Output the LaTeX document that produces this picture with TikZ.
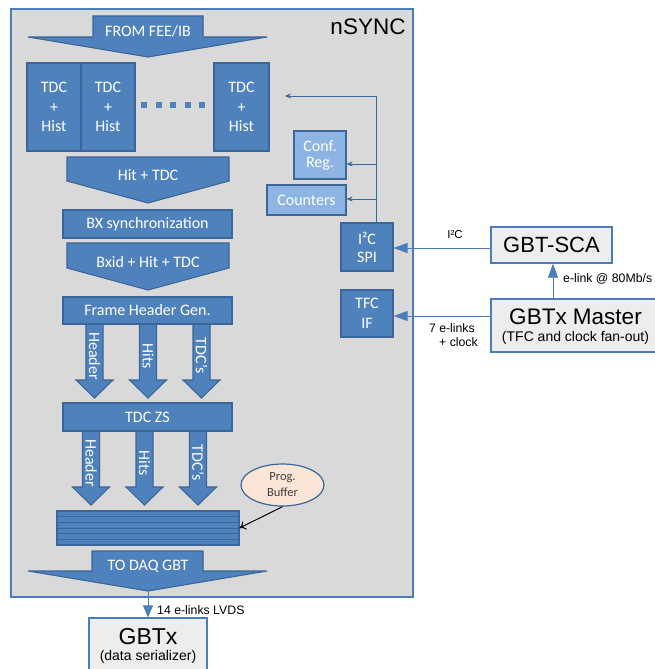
\documentclass[tikz,border=0pt]{standalone}
\usepackage{fontspec}
\setmainfont{Liberation Sans}
\newfontfamily\calfont{Carlito}
\usetikzlibrary{arrows.meta,calc,shapes.geometric}
\definecolor{bfill}{HTML}{4F81BD}
\definecolor{bline}{HTML}{3B6699}
\definecolor{lfill}{HTML}{8DB4E2}
\definecolor{bgray}{HTML}{D9D9D9}
\definecolor{boxgray}{HTML}{EDEDED}
\definecolor{peach}{HTML}{FBE5D6}
\definecolor{rline}{HTML}{4A7EBB}
\begin{document}
\begin{tikzpicture}[x=1pt,y=-1pt,
  blk/.style={fill=bfill,draw=bline,line width=1.1pt},
  bbox/.style={blk,inner sep=0pt,text=white,align=center,
    font=\calfont\fontsize{16}{19.5}\selectfont},
  lbox/.style={bbox,fill=lfill},
  wtxt/.style={text=white,inner sep=0pt,font=\calfont\fontsize{16}{19.5}\selectfont},
  gbox/.style={fill=boxgray,draw=rline,line width=1.3pt,inner sep=0pt},
  lab/.style={inner sep=0pt,font=\fontsize{12.3}{14}\selectfont},
  conn/.style={draw=bline,line width=0.9pt,-{Stealth[length=6pt,width=5pt]}},
  rconn/.style={draw=rline,line width=0.8pt,-{Triangle[length=14pt,width=10pt]}},
]
\useasboundingbox (0,0) rectangle (654,669);
% outer nSYNC box
\draw[fill=bgray,draw=rline,line width=1.5pt] (11,9) rectangle (413,597);
\node[inner sep=0pt,font=\fontsize{22.5}{26}\selectfont] (nsync) at (368,27) {nSYNC};

% FROM FEE/IB
\draw[blk] (93,16) -- (203,16) -- (203,37) -- (267,37) -- (148,57) -- (28,37) -- (93,37) -- cycle;
\node[wtxt] (fromfee) at (148,31) {FROM FEE/IB};

% TDC + Hist
\node[bbox,minimum width=54,minimum height=88] (tdc1) at (54,107) {TDC\\+\\Hist};
\node[bbox,minimum width=54,minimum height=88] (tdc2) at (108,107) {TDC\\+\\Hist};
\node[bbox,minimum width=55,minimum height=88] (tdc3) at (241.5,107) {TDC\\+\\Hist};
\foreach \i in {0,...,4} {
  \fill[bfill] ({144+14.5*\i-3},102) rectangle ++(6,6);
}

% Hit + TDC
\draw[blk] (67,157) -- (229,157) -- (229,181) -- (148,203) -- (67,181) -- cycle;
\node[wtxt] (hittdc) at (148,175) {Hit + TDC};

\node[bbox,minimum width=169,minimum height=28] (bx) at (147.5,224) {BX synchronization};

\draw[blk] (67,243) -- (229,243) -- (229,268) -- (148,290) -- (67,268) -- cycle;
\node[wtxt] (bxid) at (148,262) {Bxid + Hit + TDC};

% first row arrows
\foreach \c/\t in {94.5/Header,148/Hits,201.5/TDC’s} {
  \draw[blk] (\c-8.5,322) -- (\c+8.5,322) -- (\c+8.5,380) -- (\c+18.5,380) -- (\c,398) -- (\c-18.5,380) -- (\c-8.5,380) -- cycle;
  \node[wtxt,rotate=-90] at (\c,356) {\t};
}
\node[bbox,minimum width=169,minimum height=27] (fhg) at (147.5,310.5) {Frame Header Gen.};

% second row arrows
\foreach \c/\t in {91/Header,144.5/Hits,198/TDC’s} {
  \draw[blk] (\c-8.5,429) -- (\c+8.5,429) -- (\c+8.5,487) -- (\c+18.5,487) -- (\c,505) -- (\c-18.5,487) -- (\c-8.5,487) -- cycle;
  \node[wtxt,rotate=-90] at (\c,463) {\t};
}
\node[bbox,minimum width=169,minimum height=28] (zs) at (147.5,417) {TDC ZS};

% buffer stack
\node[blk,minimum width=182,minimum height=34,inner sep=0pt] (buf) at (148,528) {};
\foreach \i in {1,...,5} {
  \draw[bline,line width=1pt] (57,{511+34/6*\i}) -- (239,{511+34/6*\i});
}

% Prog. Buffer
\node[ellipse,fill=peach,draw=bline,line width=1.2pt,minimum width=83,minimum height=42,inner sep=0pt,
  align=center,text=black!75,font=\calfont\fontsize{12.5}{16}\selectfont] (pb) at (282.5,485) {Prog.\\Buffer};
\draw[black,line width=1pt,-{To[length=6pt,width=9pt]}] (pb.south) -- (buf.east);

% TO DAQ GBT
\draw[blk] (92,551) -- (203,551) -- (203,571) -- (267,571) -- (148,591) -- (28,571) -- (92,571) -- cycle;
\node[wtxt] (todaq) at (148,566) {TO DAQ GBT};
\coordinate (daqtip) at (148,591);

% GBTx
\node[gbox,minimum width=118,minimum height=62] (gbtx) at (148,649) {};
\node[inner sep=0pt,font=\fontsize{23}{26}\selectfont] (gbtxt) at (148,637) {GBTx};
\node[inner sep=0pt,font=\fontsize{14}{16}\selectfont] (gbtxs) at (148,657) {(data serializer)};
\draw[draw=rline,line width=0.8pt,-{Triangle[length=12pt,width=10pt]}] (daqtip) -- (gbtx.north);
\node[lab,anchor=west] (lvds) at (157,610) {14 e-links LVDS};

% right inner boxes
\node[lbox,minimum width=52,minimum height=48,font=\calfont\fontsize{16}{16}\selectfont] (confreg) at (320,155) {Conf.\\Reg.};
\node[lbox,minimum width=79,minimum height=30] (counters) at (306.5,200) {Counters};
\node[bbox,minimum width=52,minimum height=48,font=\calfont\fontsize{16}{18}\selectfont] (i2c) at (367,247) {I²C\\SPI};
\node[bbox,minimum width=52,minimum height=47,font=\calfont\fontsize{16}{20.5}\selectfont] (tfc) at (367,313.5) {TFC\\IF};

\coordinate (tdcin) at (285,96);
\coordinate (bus) at ([xshift=9pt]i2c.north);
\draw[conn] (bus) |- (tdcin);
\draw[conn] (bus |- 0,164) -- ($(confreg.east)+(0,9)$);
\draw[conn] (bus |- 0,199) -- (counters.east |- 0,199);

% right outer boxes
\node[gbox,minimum width=121,minimum height=36] (gbtsca) at (551.5,245) {};
\node[inner sep=0pt,font=\fontsize{22}{26}\selectfont] (gbtscat) at (551.5,245) {GBT-SCA};
\node[gbox,minimum width=169,minimum height=53] (gbtxm) at (575.5,325.5) {};
\node[inner sep=0pt,font=\fontsize{22.5}{26}\selectfont] (gbtxmt) at (575.5,317) {GBTx Master};
\node[inner sep=0pt,font=\fontsize{14}{16}\selectfont] (gbtxms) at (575.5,338) {(TFC and clock fan-out)};

\draw[rconn] (gbtsca.west |- 0,248) -- (i2c.east |- 0,248);
\node[lab,font=\fontsize{11.5}{14}\selectfont] (i2clab) at (455,235) {I²C};
\draw[rconn] (gbtxm.west |- 0,316) -- (tfc.east |- 0,316);
\node[lab,anchor=east] (el1) at (475,328) {7 e-links};
\node[lab,anchor=east] (el2) at (478,342) {+ clock};
\draw[rconn] (gbtxm.north -| 553,0) -- (gbtsca.south -| 553,0);
\node[lab,anchor=west] (el80) at (563,279) {e-link @ 80Mb/s};
\end{tikzpicture}
\end{document}
